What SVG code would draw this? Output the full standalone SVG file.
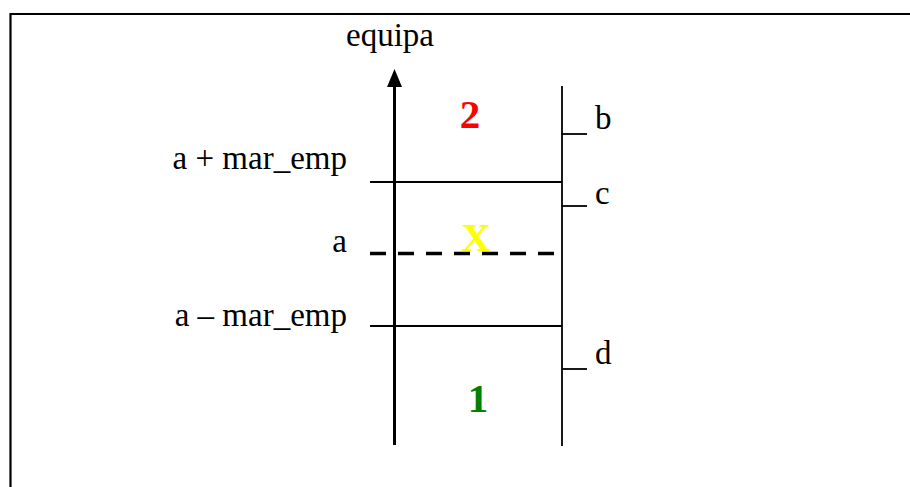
<svg xmlns="http://www.w3.org/2000/svg" width="910" height="487" viewBox="0 0 910 487">
<style>
.t{font-family:"Liberation Serif","Times New Roman",serif;font-size:33px;fill:#000}
.b{font-family:"Liberation Serif","Times New Roman",serif;font-size:41px;font-weight:bold}
.ln{stroke:#000;stroke-width:1.8;fill:none}
</style>
<rect width="910" height="487" fill="#fff"/>
<g id="frame"><path d="M10.5 487V14H910" stroke="#000" stroke-width="2.2" fill="none"/></g>
<g id="connectors">
<line x1="394.5" y1="445" x2="394.5" y2="84" stroke="#000" stroke-width="3"/>
<polygon points="394.5,69 387,87 402,87" fill="#000"/>
<line class="ln" x1="562" y1="86" x2="562" y2="446"/>
<line class="ln" x1="562" y1="134" x2="587" y2="134"/>
<line class="ln" x1="562" y1="206" x2="587" y2="206"/>
<line class="ln" x1="562" y1="369" x2="587" y2="369"/>
<line class="ln" x1="370" y1="182" x2="562" y2="182"/>
<line class="ln" x1="370" y1="326" x2="562" y2="326"/>
<line x1="370" y1="253.5" x2="555" y2="253.5" stroke="#000" stroke-width="3.5" stroke-dasharray="16 12"/>
</g>
<g id="labels">
<text class="t" x="390" y="46" text-anchor="middle">equipa</text>
<text class="t" x="595" y="129">b</text>
<text class="t" x="595" y="204">c</text>
<text class="t" x="595" y="364">d</text>
<text class="t" x="347" y="169" text-anchor="end">a + mar_emp</text>
<text class="t" x="347" y="252" text-anchor="end">a</text>
<text class="t" x="347" y="326" text-anchor="end">a – mar_emp</text>
</g>
<g id="region2"><text class="b" x="470" y="128" text-anchor="middle" fill="#ff0000">2</text></g>
<g id="regionX"><text class="b" x="476" y="251" text-anchor="middle" fill="#ffff00">X</text></g>
<g id="region1"><text class="b" x="478" y="412" text-anchor="middle" fill="#008000">1</text></g>
</svg>
